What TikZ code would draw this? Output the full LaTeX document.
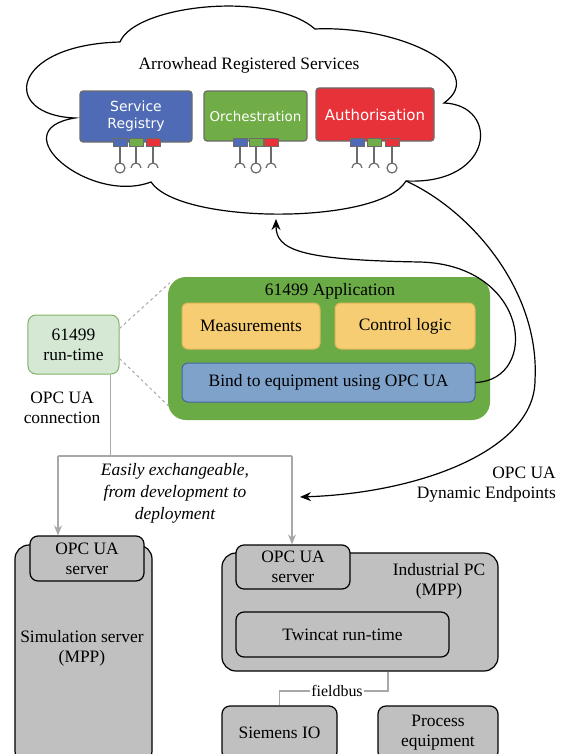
\documentclass[tikz,border=0pt]{standalone}
\usepackage{fontspec}
\setmainfont{Liberation Serif}
\newfontfamily\svcfont{DejaVu Sans}
\usetikzlibrary{calc,arrows.meta}

\definecolor{srblue}{HTML}{4F6BB5}
\definecolor{orgreen}{HTML}{70AD47}
\definecolor{aured}{HTML}{E8323A}
\definecolor{portgray}{HTML}{6B6B6B}
\definecolor{appgreen}{HTML}{6BAB45}
\definecolor{rtfill}{HTML}{D5E8D4}
\definecolor{rtline}{HTML}{82B366}
\definecolor{taskfill}{HTML}{F6CD72}
\definecolor{taskline}{HTML}{E2B65A}
\definecolor{bindfill}{HTML}{7FA2CB}
\definecolor{bindline}{HTML}{44669E}
\definecolor{boxgray}{HTML}{C0C0C0}
\definecolor{linkgray}{HTML}{A8A8A8}

\tikzset{
	txt/.style={font=\fontsize{17.5}{20}\selectfont, align=center, inner sep=0pt},
	svc/.style={draw=portgray, line width=1.2bp, rounded corners=3bp, text=white, align=center, inner sep=0pt},
	port/.style={draw=portgray, line width=1bp},
	stem/.style={draw=portgray, line width=1.2bp},
	task/.style={txt, draw=taskline, fill=taskfill, line width=1bp, rounded corners=6bp},
	graybox/.style={txt, draw=black, line width=1.2bp, fill=boxgray, rounded corners=8bp},
	graylink/.style={draw=linkgray, line width=1.5bp},
	bluelink/.style={draw=black, line width=1.2bp},
}

\begin{document}
\begin{tikzpicture}[x=1bp, y=-1bp]
	%%%%% START %%%%%
	\useasboundingbox (0,0) rectangle (572,754);
	
	% cloud
	\draw[line width=1.2bp] (120,42) .. controls (135,5) and (270,-10) .. (315,29)
		.. controls (400,25) and (490,70) .. (444,103)
		.. controls (500,105) and (495,185) .. (406,181)
		.. controls (380,225) and (180,225) .. (151,182)
		.. controls (90,205) and (0,130) .. (75,118)
		.. controls (0,115) and (10,45) .. (120,42);
	\coordinate (cloudbot) at (276,219);
	\coordinate (cloudexit) at (406,181);
	
	\node[txt] (arrowhead) at (249,65) {Arrowhead Registered Services};
	
	\node[svc, fill=srblue, minimum width=112bp, minimum height=51bp, font=\svcfont\fontsize{14}{17}\selectfont] (sr) at (136,116.5) {Service\\Registry};
	\node[svc, fill=orgreen, minimum width=103bp, minimum height=50bp, font=\svcfont\fontsize{13.5}{16}\selectfont] (orch) at (255.5,116) {Orchestration};
	\node[svc, fill=aured, minimum width=118bp, minimum height=53bp, font=\svcfont\fontsize{15}{18}\selectfont] (auth) at (375,114.5) {Authorisation};
	
	\foreach \px/\pc in {120/srblue,136/orgreen,153/aured,240/srblue,256/orgreen,271/aured,357/srblue,374/orgreen,392/aured}{
		\draw[stem] (\px,146) -- (\px,163);
		\draw[port, fill=\pc] (\px-7,138) rectangle (\px+7,146);
	}
	\foreach \px in {120,256,392}
		\draw[stem] (\px,168) circle (5);
	\foreach \px in {136,153,240,271,357,374}
		\draw[stem] (\px-5,168) arc (180:360:5);
	
	% 61499
	\node[txt, draw=rtline, fill=rtfill, line width=1bp, rounded corners=8bp, minimum width=91bp, minimum height=59bp] (rt) at (73.5,344.5) {61499\\run-time};
	
	\node[fill=appgreen, rounded corners=18bp, minimum width=322bp, minimum height=143bp] (app) at (329,348.5) {};
	\node[txt] (apptitle) at (330,291) {61499 Application};
	\node[task, minimum width=138bp, minimum height=46bp] (meas) at (251,326) {Measurements};
	\node[task, minimum width=140bp, minimum height=46bp] (ctrl) at (405,326) {Control logic};
	\node[txt, draw=bindline, fill=bindfill, line width=1bp, rounded corners=6bp, minimum width=293bp, minimum height=39bp] (bind) at (328.5,382.5) {Bind to equipment using OPC UA};
	
	\draw[draw=linkgray, line width=1bp, dashed] ($(rt.east)+(0,-16)$) -- ($(app.north west)+(2,6)$);
	\draw[draw=linkgray, line width=1bp, dashed] ($(rt.east)+(0,14)$) -- ($(app.south west)+(2,-13)$);
	
	\draw[bluelink, -{Stealth[length=11bp,width=9bp]}] (bind.east) .. controls (540,380) and (530,265) .. (420,262)
		.. controls (300,260) and (276,250) .. (cloudbot);
	
	\coordinate (dynend) at (300,497);
	\draw[bluelink, -{Stealth[length=11bp,width=9bp]}] (cloudexit) .. controls (470,210) and (540,290) .. (535,380)
		.. controls (535,450) and (420,493) .. (dynend);
	
	\node[txt] (opcconn) at (62,408) {OPC UA\\connection};
	\node[txt, font=\itshape\fontsize{17.5}{22}\selectfont] (exch) at (175,493) {Easily exchangeable,\\from development to\\deployment};
	\node[txt, align=right, anchor=east] (dynlbl) at (556,485) {OPC UA\\Dynamic Endpoints};
	
	% servers
	\node[graybox, rounded corners=14bp, minimum width=137bp, minimum height=220bp] (sim) at (83.5,655) {};
	\node[txt] (simlbl) at (82,648) {Simulation server\\(MPP)};
	\node[graybox, minimum width=114bp, minimum height=45bp] (so) at (87,558.5) {OPC UA\\server};
	
	\node[graybox, rounded corners=14bp, minimum width=276bp, minimum height=118bp] (ipc) at (360,612) {};
	\node[txt] (ipclbl) at (439,581) {Industrial PC\\(MPP)};
	\node[graybox, minimum width=114bp, minimum height=44bp] (io) at (293,567) {OPC UA\\server};
	\node[graybox, minimum width=213bp, minimum height=45bp] (twin) at (342.5,634.5) {Twincat run-time};
	
	\node[graybox, minimum width=115bp, minimum height=54bp] (siemens) at (279.5,733) {Siemens IO};
	\node[graybox, minimum width=120bp, minimum height=54bp] (proc) at (438,733) {Process\\equipment};
	
	\coordinate (split) at ($(rt.south)+(37,0)$);
	\coordinate (jl) at (58,456);
	\coordinate (jr) at (292,456);
	\draw[graylink] (split) |- (jl);
	\draw[graylink] (jl) -- (jr);
	\draw[graylink, -{Stealth[length=10bp,width=8bp]}] (jl) -- (jl |- so.north);
	\draw[graylink, -{Stealth[length=10bp,width=8bp]}] (jr) -- (jr |- io.north);
	
	\node[txt, font=\fontsize{16}{18}\selectfont, inner sep=1bp] (fb) at (337,691) {fieldbus};
	\draw[graylink, line width=1.2bp] ($(ipc.south)+(28,0)$) |- (fb.east);
	\draw[graylink, line width=1.2bp] (fb.west) -| (siemens.north);
	%%%%% END %%%%%
\end{tikzpicture}
\end{document}
